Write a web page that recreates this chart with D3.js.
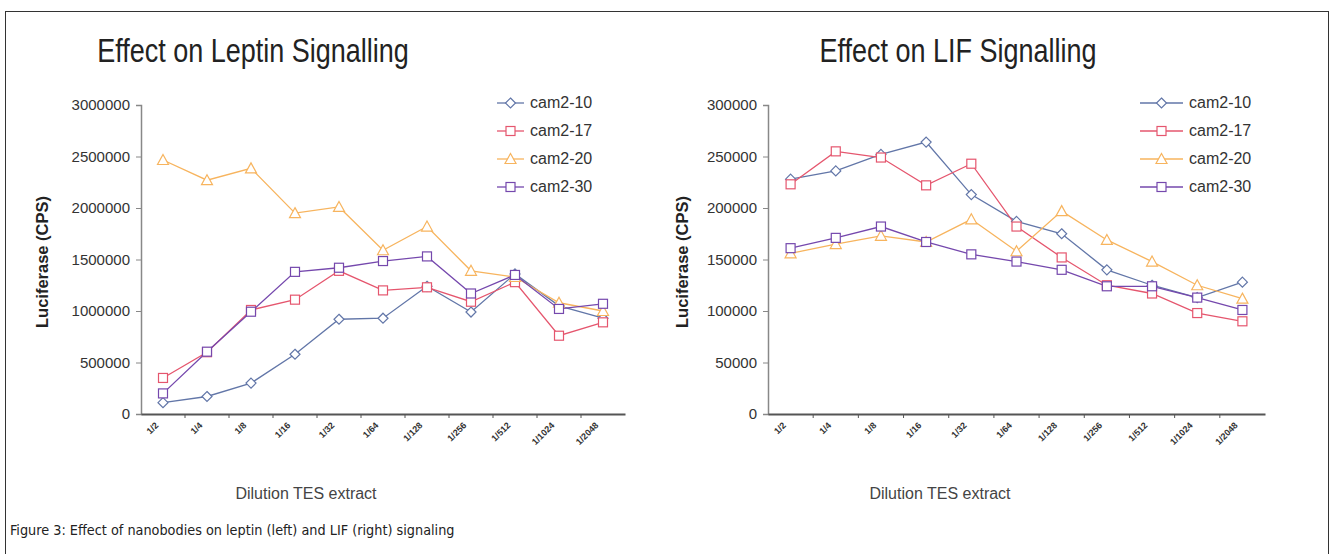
<!DOCTYPE html>
<html><head><meta charset="utf-8">
<script src="https://cdn.jsdelivr.net/npm/d3@7"></script>
<style>body{margin:0;background:#fff}svg{display:block}</style>
</head><body>
<svg id="c" width="1334" height="554"></svg>
<script>
const categories = ["1/2","1/4","1/8","1/16","1/32","1/64","1/128","1/256","1/512","1/1024","1/2048"];
const seriesNames = ["cam2-10","cam2-17","cam2-20","cam2-30"];
const leptin_cam2_10 = [110000,170000,300000,580000,920000,930000,1240000,990000,1360000,1050000,930000];
const leptin_cam2_17 = [350000,600000,1010000,1110000,1390000,1200000,1230000,1090000,1280000,760000,890000];
const leptin_cam2_20 = [2466000,2270000,2385000,1950000,2010000,1590000,1820000,1390000,1330000,1080000,1000000];
const leptin_cam2_30 = [200000,605000,993000,1380000,1420000,1485000,1530000,1170000,1350000,1020000,1070000];
const lif_cam2_10 = [228000,236000,252000,264000,213000,187000,175000,140000,125000,113000,128000];
const lif_cam2_17 = [223000,255000,249000,222000,243000,182000,152000,125000,117000,98000,90000];
const lif_cam2_20 = [156000,165000,173000,167000,189000,158000,197000,169000,148000,125000,112000];
const lif_cam2_30 = [161000,171000,182000,167000,155000,148000,140000,124000,124000,113000,101000];
const leptinTicks = [0,500000,1000000,1500000,2000000,2500000,3000000];
const lifTicks = [0,50000,100000,150000,200000,250000,300000];

const colors = ["#6276a8","#e5566e","#f7b45e","#7548ad"];
const shapes = ["diamond","square","triangle","square"];

const svg = d3.select("#c");
svg.append("rect").attr("x",5.5).attr("y",11.5).attr("width",1323).attr("height",600)
  .attr("fill","none").attr("stroke","#333").attr("stroke-width",1);

svg.append("text").attr("x",10).attr("y",535).attr("font-family","DejaVu Sans Condensed")
  .attr("font-size",14.3).attr("fill","#222")
  .text("Figure 3: Effect of nanobodies on leptin (left) and LIF (right) signaling");

function marker(g, shape, x, y, color){
  let p;
  if(shape==="square") p = g.append("rect").attr("x",x-4.5).attr("y",y-4.5).attr("width",9).attr("height",9);
  else if(shape==="triangle") p = g.append("path").attr("d",`M${x},${y-5.5}L${x+5.5},${y+4.5}L${x-5.5},${y+4.5}Z`);
  else p = g.append("path").attr("d",`M${x},${y-5}L${x+5},${y}L${x},${y+5}L${x-5},${y}Z`);
  p.attr("fill","#fff").attr("stroke",color).attr("stroke-width",1.2);
}

function drawChart(o){
  const g = svg.append("g");
  const x = d3.scaleBand().domain(categories).range([o.x0,o.x1]);
  const y = d3.scaleLinear().domain([0,o.ymax]).range([414,105]);
  g.append("text").attr("x",o.titleX).attr("y",62).attr("text-anchor","middle")
    .attr("font-family","Liberation Sans, Arial").attr("font-size",27).attr("fill","#222")
    .attr("transform",`translate(0,62) scale(1,1.2) translate(0,-62)`)
    .text(o.title);
  const ya = g.append("g").attr("transform",`translate(${o.x0},0)`)
    .call(d3.axisLeft(y).tickValues(o.ticks).tickSize(5).tickPadding(6).tickFormat(d3.format("d")));
  ya.select(".domain").attr("stroke","#888").attr("stroke-width",1.5);
  ya.selectAll(".tick line").attr("stroke","#888");
  ya.selectAll("text").attr("font-family","Liberation Sans Narrow, Liberation Sans").attr("font-size",15).attr("fill","#333");
  const xa = g.append("g").attr("transform",`translate(0,414)`)
    .call(d3.axisBottom(x).tickSize(0).tickFormat(""));
  xa.select(".domain").attr("stroke","#555").attr("stroke-width",2);
  xa.selectAll(".tick").remove();
  const bw = x.bandwidth();
  categories.forEach((c,i)=>{
    if(i===0) return;
    g.append("line").attr("x1",x(c)).attr("x2",x(c)).attr("y1",414).attr("y2",418).attr("stroke","#555");
  });
  categories.forEach(c=>{
    const cx = x(c)+bw/2;
    g.append("text").attr("transform",`translate(${cx-4},${426}) rotate(-45)`)
      .attr("text-anchor","end").attr("font-family","Liberation Sans").attr("font-weight","bold")
      .attr("font-size",9).attr("fill","#333").text(c);
  });
  g.append("text").attr("transform",`translate(${o.ylabX},${o.ylabY}) rotate(-90)`)
    .attr("text-anchor","middle").attr("font-family","Liberation Sans").attr("font-weight","bold")
    .attr("font-size",16.5).attr("fill","#222").text("Luciferase (CPS)");
  g.append("text").attr("x",o.xlabX).attr("y",499).attr("text-anchor","middle")
    .attr("font-family","Liberation Sans").attr("font-size",16).attr("fill","#444").text("Dilution TES extract");
  const line = d3.line().x((d,i)=>x(categories[i])+bw/2).y(d=>y(d));
  o.data.forEach((vals,si)=>{
    g.append("path").attr("d",line(vals)).attr("fill","none").attr("stroke",colors[si]).attr("stroke-width",1.3);
  });
  o.data.forEach((vals,si)=>{
    vals.forEach((v,i)=>marker(g,shapes[si],x(categories[i])+bw/2,y(v),colors[si]));
  });
  seriesNames.forEach((n,i)=>{
    const ly = o.legY + i*28;
    g.append("line").attr("x1",o.legX).attr("x2",o.legX+o.legW).attr("y1",ly).attr("y2",ly)
      .attr("stroke",colors[i]).attr("stroke-width",1.3);
    marker(g,shapes[i],o.legX+o.legW/2,ly,colors[i]);
    g.append("text").attr("x",o.legX+o.legW+6).attr("y",ly+5).attr("font-family","Liberation Sans")
      .attr("font-size",16).attr("fill","#333").text(n);
  });
}

drawChart({x0:141,x1:625,ymax:3000000,ticks:leptinTicks,title:"Effect on Leptin Signalling",titleX:253,
  ylabX:48,ylabY:262,xlabX:306,legX:497,legW:27,legY:103,
  data:[leptin_cam2_10,leptin_cam2_17,leptin_cam2_20,leptin_cam2_30]});
drawChart({x0:768,x1:1265,ymax:300000,ticks:lifTicks,title:"Effect on LIF Signalling",titleX:958,
  ylabX:688,ylabY:262,xlabX:940,legX:1140,legW:43,legY:103,
  data:[lif_cam2_10,lif_cam2_17,lif_cam2_20,lif_cam2_30]});
</script>
</body></html>
